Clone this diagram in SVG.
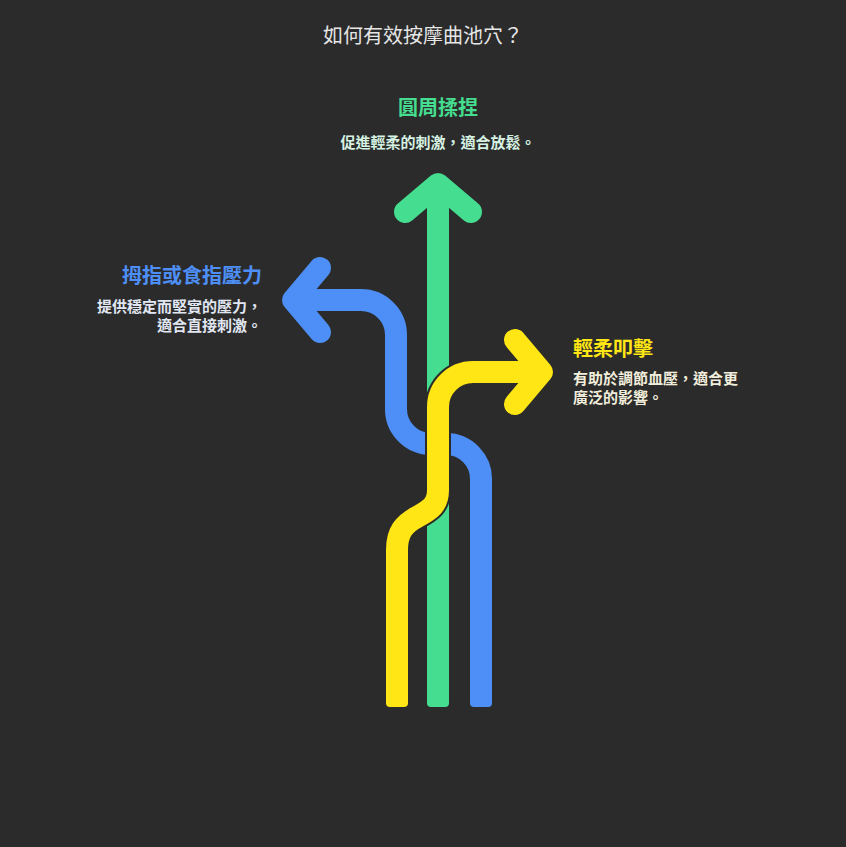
<svg xmlns="http://www.w3.org/2000/svg" width="846" height="847" viewBox="0 0 846 847">
<style>
.ol{fill:none;stroke:#2b2b2b;stroke-width:26;stroke-linecap:butt;stroke-linejoin:round}
.ln{fill:none;stroke-width:22;stroke-linecap:butt;stroke-linejoin:round}
.hd{fill:none;stroke-width:22;stroke-linecap:round;stroke-linejoin:round}
.t{font-family:"Noto Sans CJK TC","Noto Sans CJK SC",sans-serif}
.h{font-size:20px;font-weight:700}
.d{font-size:15px;font-weight:700}
</style>
<rect width="846" height="847" fill="#2b2b2b"/>
<g id="connectors">
  <g id="blue-path">
    <path class="ln" stroke="#4e8ff7" d="M481,703 V480 A35,35 0 0 0 446,444 H431 A35,35 0 0 1 396,409 V335 A35,35 0 0 0 361,300 H300"/>
    <rect x="470" y="690" width="22" height="17" rx="4" fill="#4e8ff7"/>
    <polyline class="hd" stroke="#4e8ff7" points="320,268 293,300 320,332"/>
  </g>
  <g id="green-path">
    <path class="ol" d="M438,703 V200"/>
    <path class="ln" stroke="#45dd8f" d="M438,703 V195"/>
    <rect x="427" y="690" width="22" height="17" rx="4" fill="#45dd8f"/>
    <polyline class="hd" stroke="#45dd8f" points="405,212 438,184 471,212"/>
  </g>
  <g id="yellow-path">
    <path class="ol" d="M397,703 V550 C397,532 404,524 417,517 C430,510 438,505 438,490 V407 A35,35 0 0 1 473,372 H535"/>
    <path class="ln" stroke="#ffe614" d="M397,703 V550 C397,532 404,524 417,517 C430,510 438,505 438,490 V407 A35,35 0 0 1 473,372 H535"/>
    <rect x="386" y="690" width="22" height="17" rx="4" fill="#ffe614"/>
    <polyline class="hd" stroke="#ffe614" points="515,340 542,372 515,404"/>
  </g>
</g>
<g id="title">
  <text class="t" x="423" y="43" font-size="20" fill="#e6e6e6" text-anchor="middle">如何有效按摩曲池穴？</text>
</g>
<g id="node-green">
  <text class="t h" x="438" y="115" fill="#45dd8f" text-anchor="middle">圓周揉捏</text>
  <text class="t d" x="438" y="148" fill="#d6f2e2" text-anchor="middle">促進輕柔的刺激，適合放鬆。</text>
</g>
<g id="node-blue">
  <text class="t h" x="262" y="283" fill="#4e8ff7" text-anchor="end">拇指或食指壓力</text>
  <text class="t d" x="262" y="312" fill="#e0e6f2" text-anchor="end">提供穩定而堅實的壓力，</text>
  <text class="t d" x="262" y="331" fill="#e0e6f2" text-anchor="end">適合直接刺激。</text>
</g>
<g id="node-yellow">
  <text class="t h" x="573" y="356" fill="#ffe614">輕柔叩擊</text>
  <text class="t d" x="573" y="384" fill="#f2eedc">有助於調節血壓，適合更</text>
  <text class="t d" x="573" y="403" fill="#f2eedc">廣泛的影響。</text>
</g>
</svg>
